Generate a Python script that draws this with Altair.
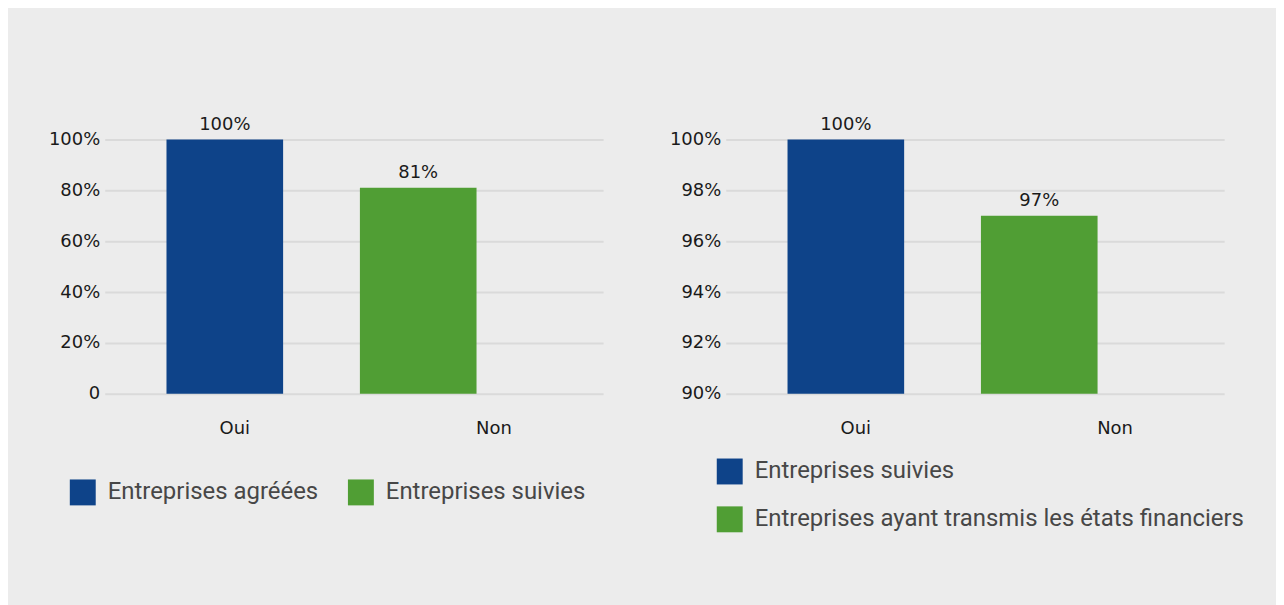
import altair as alt
import pandas as pd

# ---- data ----
categories = ["Oui", "Non"]

left_series = ["Entreprises agréées", "Entreprises suivies"]
left_values = [1.00, 0.81]
left_ticks = [0.0, 0.2, 0.4, 0.6, 0.8, 1.0]

right_series = ["Entreprises suivies", "Entreprises ayant transmis les états financiers"]
right_values = [1.00, 0.97]
right_ticks = [0.90, 0.92, 0.94, 0.96, 0.98, 1.00]

colors = ["#0e4389", "#509e34"]

FONT = "DejaVu Sans"
LEG_FONT = "Roboto"
TXT = "#1a1a1a"


def panel(series, values, ticks, label_expr, legend_props):
    df = pd.DataFrame({
        "cat": categories,
        "series": series,
        "value": values,
        "base": [ticks[0]] * len(categories),
    })
    xscale = alt.Scale(domain=categories, paddingInner=0.397, paddingOuter=0.487, align=0.328)
    yscale = alt.Scale(domain=[ticks[0], ticks[-1]], zero=False, nice=False)
    x_axis = alt.Axis(
        title=None, labelAngle=0, domain=False, ticks=False, grid=False,
        labelFont=FONT, labelFontSize=18, labelColor=TXT, labelPadding=26,
        labelOffset={"condition": {"test": "datum.value === 'Non'", "value": 76}, "value": 10},
    )
    y_axis = alt.Axis(
        title=None, values=ticks, labelExpr=label_expr, domain=False, ticks=False,
        gridColor="#dadada", gridWidth=2, labelFont=FONT, labelFontSize=18,
        labelColor=TXT, labelPadding=5, minExtent=55, maxExtent=55,
    )
    bars = alt.Chart(df).mark_bar().encode(
        x=alt.X("cat:N", scale=xscale, sort=categories, axis=x_axis),
        y=alt.Y("value:Q", scale=yscale, axis=y_axis),
        y2="base:Q",
        color=alt.Color(
            "series:N",
            scale=alt.Scale(domain=series, range=colors),
            legend=alt.Legend(**legend_props),
        ),
    )
    text = alt.Chart(df).transform_calculate(
        label="format(datum.value, '.0%')"
    ).mark_text(baseline="bottom", dy=-6, font=FONT, fontSize=18, color=TXT).encode(
        x=alt.X("cat:N", scale=xscale, sort=categories),
        y=alt.Y("value:Q", scale=yscale),
        text="label:N",
    )
    return alt.layer(bars, text).properties(width=500, height=255)


common_leg = dict(
    title=None, orient="none", symbolType="square", symbolSize=676,
    symbolStrokeWidth=0, symbolOpacity=1, labelFont=LEG_FONT, labelFontSize=24,
    labelColor="#474747", labelOffset=12, labelLimit=700, padding=0,
)

left = panel(
    left_series, left_values, left_ticks,
    "datum.value === 0 ? '0' : format(datum.value, '.0%')",
    dict(common_leg, legendX=-35, legendY=341, direction="horizontal", columns=2, columnPadding=29),
)
right = panel(
    right_series, right_values, right_ticks,
    "format(datum.value, '.0%')",
    dict(common_leg, legendX=-9, legendY=320, direction="vertical", columns=1, rowPadding=22),
)

chart = alt.hconcat(left, right, spacing=66).resolve_scale(
    color="independent", x="independent", y="independent"
).configure(
    background="#ececec",
    padding={"left": 40, "top": 107, "right": 31, "bottom": 75},
).configure_view(strokeWidth=0)

chart.save("out.html", embed_options={"renderer": "svg", "actions": False})
